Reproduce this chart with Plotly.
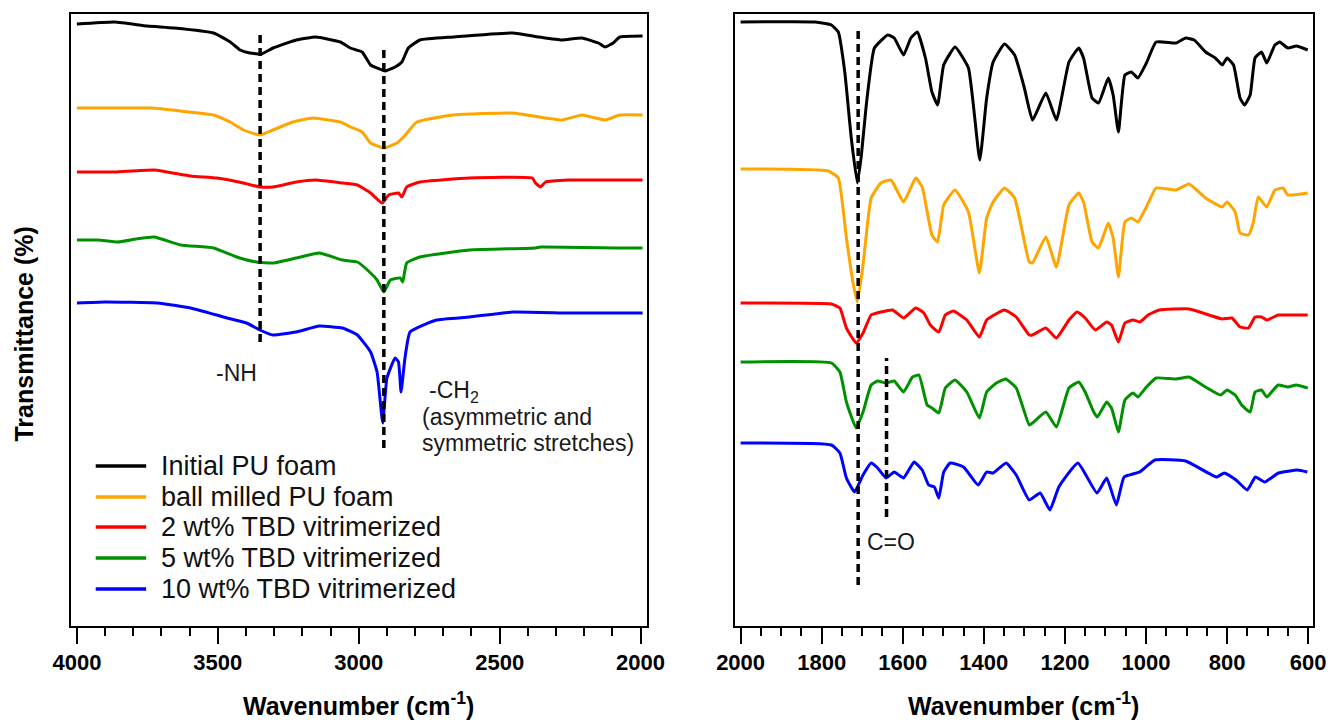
import plotly.graph_objects as go

# ---------------- data ----------------
series_names = ["Initial PU foam", "ball milled PU foam", "2 wt% TBD vitrimerized",
                "5 wt% TBD vitrimerized", "10 wt% TBD vitrimerized"]
series_colors = ["#000000", "#FFA500", "#FF0000", "#009100", "#0000FF"]

# High-wavenumber panel (4000-2000 cm-1); transmittance in arbitrary (offset) units
initial_hi_wn = [4000, 3866, 3750, 3655, 3515, 3456, 3421, 3386, 3345, 3304, 3222, 3152, 3065, 3030, 2988,
                 2958, 2935, 2906, 2871, 2847, 2824, 2783, 2665, 2454, 2361, 2279, 2208, 2150, 2126, 2097, 2074, 1993]
initial_hi_T = [602, 604, 600, 598, 593, 584, 576, 573, 572, 578, 586, 589, 584, 578, 574,
                561, 558, 555, 559, 564, 578, 586, 589, 593, 589, 586, 588, 583, 579, 583, 589, 590]

ball_hi_wn = [4000, 3866, 3737, 3632, 3515, 3456, 3409, 3351, 3304, 3234, 3163, 3065, 3029, 2988, 2958,
              2911, 2865, 2841, 2794, 2665, 2454, 2279, 2208, 2126, 2074, 1993]
ball_hi_T = [518, 518, 518, 515, 511, 504, 496, 491, 496, 504, 508, 504, 499, 494, 483,
             478, 483, 489, 504, 511, 513, 506, 511, 506, 511, 511]

tbd2_hi_wn = [4000, 3866, 3726, 3597, 3503, 3409, 3351, 3304, 3222, 3152, 3058, 3005, 2958, 2917, 2894,
              2859, 2847, 2830, 2783, 2607, 2384, 2373, 2355, 2337, 2255, 2074, 1993]
tbd2_hi_T = [454, 454, 456, 450, 448, 443, 439, 439, 444, 446, 443, 441, 433, 423, 431,
             433, 429, 439, 444, 448, 448, 443, 439, 444, 446, 446, 446]

tbd5_hi_wn = [4000, 3925, 3855, 3790, 3726, 3632, 3515, 3433, 3363, 3304, 3222, 3140, 3058, 3005,
              2958, 2935, 2911, 2888, 2853, 2844, 2830, 2783, 2607, 2373, 2355, 2074, 1993]
tbd5_hi_T = [386, 386, 384, 387, 389, 381, 378, 369, 364, 363, 368, 373, 366, 364,
             353, 346, 334, 346, 348, 344, 363, 369, 376, 378, 379, 378, 378]

tbd10_hi_wn = [4000, 3902, 3714, 3597, 3480, 3398, 3351, 3304, 3222, 3140, 3058, 3005, 2958, 2935, 2915,
               2900, 2871, 2859, 2850, 2836, 2818, 2724, 2607, 2454, 2255, 2074, 1993]
tbd10_hi_T = [323, 324, 323, 318, 309, 303, 296, 291, 294, 300, 298, 291, 274, 254, 203,
              248, 268, 264, 234, 268, 294, 306, 309, 314, 313, 313, 313]

# Fingerprint panel (2000-600 cm-1)
initial_lo_wn = [2000, 1816, 1776, 1759, 1743, 1727, 1712, 1702, 1690, 1670, 1637, 1621, 1598, 1580, 1564,
                 1544, 1528, 1514, 1499, 1471, 1438, 1410, 1393, 1377, 1349, 1324, 1300, 1280, 1247, 1221,
                 1190, 1166, 1154, 1133, 1117, 1093, 1081, 1068, 1052, 1036, 1020, 999, 975, 926, 902,
                 881, 853, 829, 812, 800, 784, 768, 757, 743, 731, 715, 702, 682, 670, 650, 629, 601]
initial_lo_T = [604, 604, 601, 594, 554, 488, 443, 471, 521, 578, 591, 588, 571, 588, 594,
                568, 534, 521, 561, 579, 558, 466, 528, 564, 582, 571, 538, 506, 533, 506,
                564, 578, 568, 528, 523, 548, 531, 494, 551, 554, 548, 563, 584, 583, 588,
                586, 574, 568, 561, 568, 561, 528, 521, 531, 568, 574, 563, 581, 584, 578, 580, 576]

ball_lo_wn = [2000, 1784, 1759, 1739, 1723, 1712, 1698, 1678, 1654, 1629, 1598, 1568, 1552, 1528, 1514,
              1499, 1471, 1438, 1411, 1393, 1377, 1349, 1324, 1288, 1280, 1247, 1221, 1190, 1166, 1154,
              1133, 1117, 1093, 1081, 1068, 1052, 1036, 1020, 999, 975, 926, 894, 853, 812, 800,
              780, 768, 747, 735, 723, 702, 682, 662, 650, 601]
ball_lo_T = [457, 455, 448, 388, 344, 324, 361, 428, 443, 446, 424, 448, 439, 391, 384,
             421, 436, 414, 353, 408, 424, 438, 428, 364, 363, 389, 359, 421, 433, 424,
             384, 378, 403, 388, 349, 404, 408, 404, 419, 438, 436, 442, 428, 419, 424,
             414, 393, 391, 404, 429, 419, 436, 438, 431, 433]

tbd2_lo_wn = [2000, 1776, 1755, 1739, 1715, 1698, 1678, 1654, 1625, 1598, 1568, 1548, 1532, 1511, 1495,
              1475, 1442, 1411, 1393, 1349, 1320, 1288, 1280, 1247, 1221, 1190, 1170, 1150, 1125, 1097,
              1085, 1068, 1052, 1032, 1015, 995, 967, 893, 845, 812, 788, 768, 747, 731, 715,
              702, 674, 650, 601]
tbd2_lo_T = [323, 322, 318, 298, 283, 293, 311, 314, 316, 308, 318, 313, 301, 294, 311,
             315, 306, 289, 306, 316, 309, 291, 291, 298, 288, 306, 314, 308, 296, 304,
             301, 284, 303, 306, 304, 311, 316, 317, 311, 307, 308, 299, 298, 309, 309,
             306, 311, 311, 311]

tbd5_lo_wn = [2000, 1776, 1755, 1739, 1715, 1698, 1678, 1662, 1641, 1621, 1598, 1576, 1560, 1540, 1528,
              1511, 1495, 1471, 1442, 1411, 1393, 1369, 1346, 1320, 1288, 1280, 1247, 1221, 1190, 1166,
              1150, 1129, 1120, 1097, 1085, 1068, 1052, 1032, 1020, 999, 975, 926, 894, 853, 816,
              800, 780, 764, 743, 731, 715, 702, 674, 650, 629, 601]
tbd5_lo_T = [264, 263, 254, 224, 198, 214, 241, 245, 243, 245, 234, 249, 251, 221, 218,
             213, 238, 246, 234, 208, 234, 243, 247, 238, 201, 203, 214, 199, 238, 244,
             234, 214, 209, 224, 218, 194, 226, 233, 229, 239, 248, 247, 249, 239, 231,
             236, 231, 221, 214, 234, 236, 229, 241, 239, 241, 238]

tbd10_lo_wn = [2000, 1776, 1755, 1739, 1719, 1698, 1678, 1662, 1641, 1621, 1598, 1572, 1552, 1536, 1522,
               1511, 1499, 1483, 1450, 1414, 1393, 1377, 1345, 1320, 1288, 1261, 1237, 1215, 1168, 1121,
               1097, 1073, 1054, 1016, 978, 902, 826, 807, 778, 750, 730, 707, 673, 626, 602]
tbd10_lo_T = [183, 181, 173, 148, 134, 151, 163, 158, 148, 154, 148, 164, 156, 141, 139,
              128, 154, 163, 159, 141, 154, 153, 163, 151, 126, 133, 116, 139, 163, 133,
              148, 121, 149, 154, 166, 165, 149, 153, 146, 136, 149, 144, 153, 156, 154]

# Marker lines (wavenumber, lower T, upper T) and labels
nh_line = [3350, 284, 596]
ch2_line = [2911, 178, 578]
co_line = [1710, 41, 599]
co2_line = [1640, 109, 268]

hi_x = [initial_hi_wn, ball_hi_wn, tbd2_hi_wn, tbd5_hi_wn, tbd10_hi_wn]
hi_y = [initial_hi_T, ball_hi_T, tbd2_hi_T, tbd5_hi_T, tbd10_hi_T]
lo_x = [initial_lo_wn, ball_lo_wn, tbd2_lo_wn, tbd5_lo_wn, tbd10_lo_wn]
lo_y = [initial_lo_T, ball_lo_T, tbd2_lo_T, tbd5_lo_T, tbd10_lo_T]

# ---------------- layout geometry ----------------
W, H = 1343, 726
ML, MR, MT, MB = 71, 16, 14, 100
PW = W - ML - MR
PH = H - MT - MB


def px_x(px):
    return (px - ML) / PW


def px_y(py):
    return (H - MB - py) / PH


FONT = "Arial, Liberation Sans, Helvetica, sans-serif"

fig = go.Figure()

for i in range(5):
    fig.add_trace(go.Scatter(x=hi_x[i], y=hi_y[i], mode="lines", name=series_names[i],
                             line=dict(color=series_colors[i], width=3, shape="spline", smoothing=0.4),
                             xaxis="x", yaxis="y", showlegend=False))
    fig.add_trace(go.Scatter(x=lo_x[i], y=lo_y[i], mode="lines", name=series_names[i],
                             line=dict(color=series_colors[i], width=3, shape="spline", smoothing=0.4),
                             xaxis="x2", yaxis="y2", showlegend=False))

shapes = []
for (ln, xr, yr) in [(nh_line, "x", "y"), (ch2_line, "x", "y"), (co_line, "x2", "y2"), (co2_line, "x2", "y2")]:
    shapes.append(dict(type="line", xref=xr, yref=yr, x0=ln[0], x1=ln[0], y0=ln[1], y1=ln[2],
                       line=dict(color="black", width=3.5, dash="8px,5px")))

# manual legend inside left panel
legend_rows = [466, 497, 527, 558, 589]
annotations = []
for i in range(5):
    yy = px_y(legend_rows[i])
    shapes.append(dict(type="line", xref="paper", yref="paper", x0=px_x(96), x1=px_x(147), y0=yy, y1=yy,
                       line=dict(color=series_colors[i], width=3.5)))
    annotations.append(dict(xref="paper", yref="paper", x=px_x(160), y=yy, text=series_names[i],
                            showarrow=False, xanchor="left", yanchor="middle",
                            font=dict(family=FONT, size=27, color="#111111")))

ann_font = dict(family=FONT, size=23, color="#1a1a1a")
annotations += [
    dict(xref="x", yref="y", x=3434, y=253, text="-NH", showarrow=False, xanchor="center", yanchor="middle", font=ann_font),
    dict(xref="x", yref="y", x=2759, y=235, text="-CH<sub>2</sub>", showarrow=False, xanchor="left", yanchor="middle", font=ann_font),
    dict(xref="x", yref="y", x=2784, y=209, text="(asymmetric and", showarrow=False, xanchor="left", yanchor="middle", font=ann_font),
    dict(xref="x", yref="y", x=2784, y=183, text="symmetric stretches)", showarrow=False, xanchor="left", yanchor="middle", font=ann_font),
    dict(xref="x2", yref="y2", x=1693, y=84, text="C=O", showarrow=False, xanchor="left", yanchor="middle", font=ann_font),
]

title_font = dict(family=FONT, size=25, color="black", weight="bold")
annotations += [
    dict(xref="paper", yref="paper", x=px_x(23), y=px_y(334), text="Transmittance (%)", textangle=-90,
         showarrow=False, xanchor="center", yanchor="middle", font=title_font),
    dict(xref="paper", yref="paper", x=px_x(362), y=px_y(722), text="Wavenumber (cm<sup>-1</sup>)",
         showarrow=False, xanchor="center", yanchor="bottom", font=title_font),
    dict(xref="paper", yref="paper", x=px_x(1034), y=px_y(722), text="Wavenumber (cm<sup>-1</sup>)",
         showarrow=False, xanchor="center", yanchor="bottom", font=title_font),
]

tick_font = dict(family=FONT, size=22, color="black", weight="bold")
common_x = dict(showline=True, linecolor="black", linewidth=2, mirror=True, showgrid=False, zeroline=False,
                ticks="outside", ticklen=16, tickwidth=2, tickcolor="black", tickfont=tick_font)
common_y = dict(showline=True, linecolor="black", linewidth=2, mirror=True, showgrid=False, zeroline=False,
                ticks="", showticklabels=False, range=[0, PH])

fig.update_layout(
    width=W, height=H, autosize=False,
    margin=dict(l=ML, r=MR, t=MT, b=MB),
    paper_bgcolor="white", plot_bgcolor="white",
    showlegend=False,
    xaxis=dict(domain=[0, px_x(653)], range=[4021, 1979], tick0=2000, dtick=500,
               minor=dict(dtick=100, tick0=2000, ticklen=8, tickwidth=2, tickcolor="black", ticks="outside", showgrid=False),
               **common_x),
    xaxis2=dict(domain=[px_x(742), 1], range=[2015, 588], tick0=600, dtick=200,
                minor=dict(dtick=50, tick0=600, ticklen=8, tickwidth=2, tickcolor="black", ticks="outside", showgrid=False),
                **common_x),
    yaxis=dict(anchor="x", **common_y),
    yaxis2=dict(anchor="x2", **common_y),
    shapes=shapes,
    annotations=annotations,
)

fig.write_html("out.html")
